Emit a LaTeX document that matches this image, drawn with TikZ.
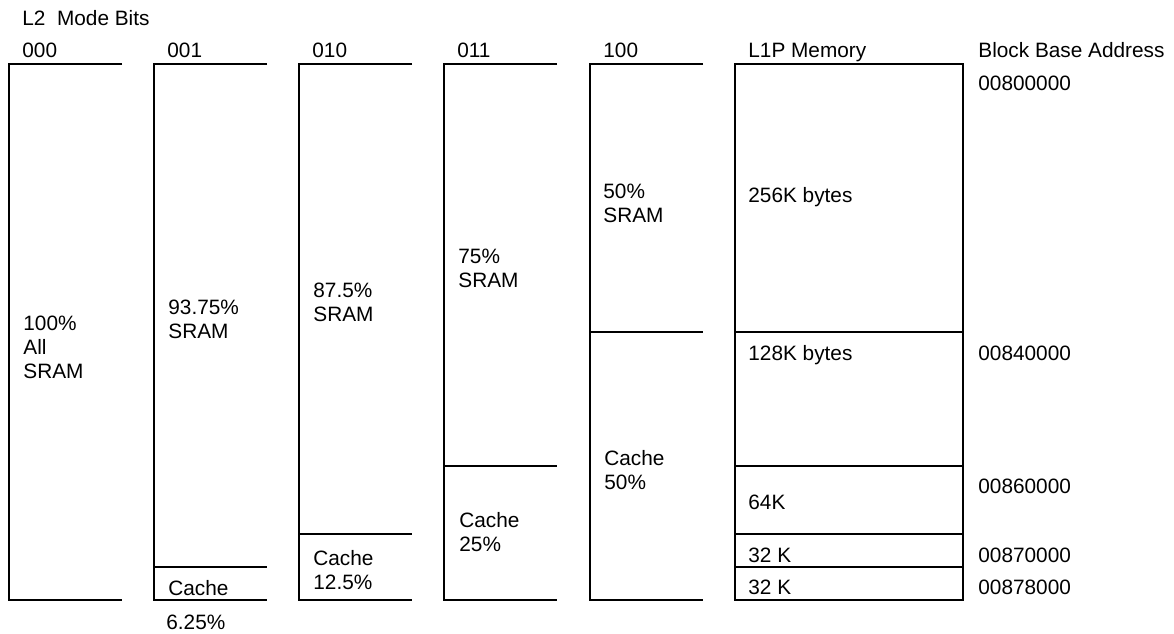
\documentclass[tikz,border=0pt]{standalone}
\usepackage{fontspec}
\setmainfont{Liberation Sans}
\begin{document}
\begin{tikzpicture}[x=0.5pt,y=-0.5pt,
  lbl/.style={anchor=base west,inner sep=0,align=left,font=\fontsize{10.4}{12}\selectfont},
  col/.style={line width=1pt,line join=miter}]
\useasboundingbox (0,0) rectangle (1174,633);
% title and headers
\node[lbl] (title) at (22,25) {L2\ \ Mode Bits};
\node[lbl] (h000) at (22,57) {000};
\node[lbl] (h001) at (167,57) {001};
\node[lbl] (h010) at (312,57) {010};
\node[lbl] (h011) at (457,57) {011};
\node[lbl] (h100) at (603,57) {100};
\node[lbl] (hl1p) at (748,57) {L1P Memory};
\node[lbl] (hbba) at (978,57) {Block Base Address};
% column 000
\draw[col] (122,64) -- (8.5,64) -- (8.5,600) -- (122,600);
% column 001
\draw[col] (267,64) -- (154,64) -- (154,600) -- (267,600);
\draw[col] (154,567) -- (267,567);
% column 010
\draw[col] (412,64) -- (299,64) -- (299,600) -- (412,600);
\draw[col] (299,534) -- (412,534);
% column 011
\draw[col] (557,64) -- (444,64) -- (444,600) -- (557,600);
\draw[col] (444,466) -- (557,466);
% column 100
\draw[col] (703,64) -- (590,64) -- (590,600) -- (703,600);
\draw[col] (590,332) -- (703,332);
% L1P memory
\draw[col] (735,64) rectangle (963,600);
\draw[col] (735,332) -- (963,332);
\draw[col] (735,466) -- (963,466);
\draw[col] (735,534) -- (963,534);
\draw[col] (735,567) -- (963,567);
% column texts (anchor at baseline of last line)
\node[lbl] (t000) at (23,378) {100\%\\All\\SRAM};
\node[lbl] (t001) at (168,338) {93.75\%\\SRAM};
\node[lbl] (c001) at (168,595) {Cache};
\node[lbl] (p001) at (166,629) {6.25\%};
\node[lbl] (t010) at (313,321) {87.5\%\\SRAM};
\node[lbl] (c010) at (313,589) {Cache\\12.5\%};
\node[lbl] (t011) at (458,287) {75\%\\SRAM};
\node[lbl] (c011) at (459,551) {Cache\\25\%};
\node[lbl] (t100) at (603,222) {50\%\\SRAM};
\node[lbl] (c100) at (604,489) {Cache\\50\%};
% L1P texts
\node[lbl] (m256) at (748,202) {256K bytes};
\node[lbl] (m128) at (748,360) {128K bytes};
\node[lbl] (m64) at (748,509) {64K};
\node[lbl] (m32a) at (748,562) {32 K};
\node[lbl] (m32b) at (748,594) {32 K};
% addresses
\node[lbl] (a0) at (978,90) {00800000};
\node[lbl] (a1) at (978,360) {00840000};
\node[lbl] (a2) at (978,493) {00860000};
\node[lbl] (a3) at (978,562) {00870000};
\node[lbl] (a4) at (978,594) {00878000};
\end{tikzpicture}
\end{document}
